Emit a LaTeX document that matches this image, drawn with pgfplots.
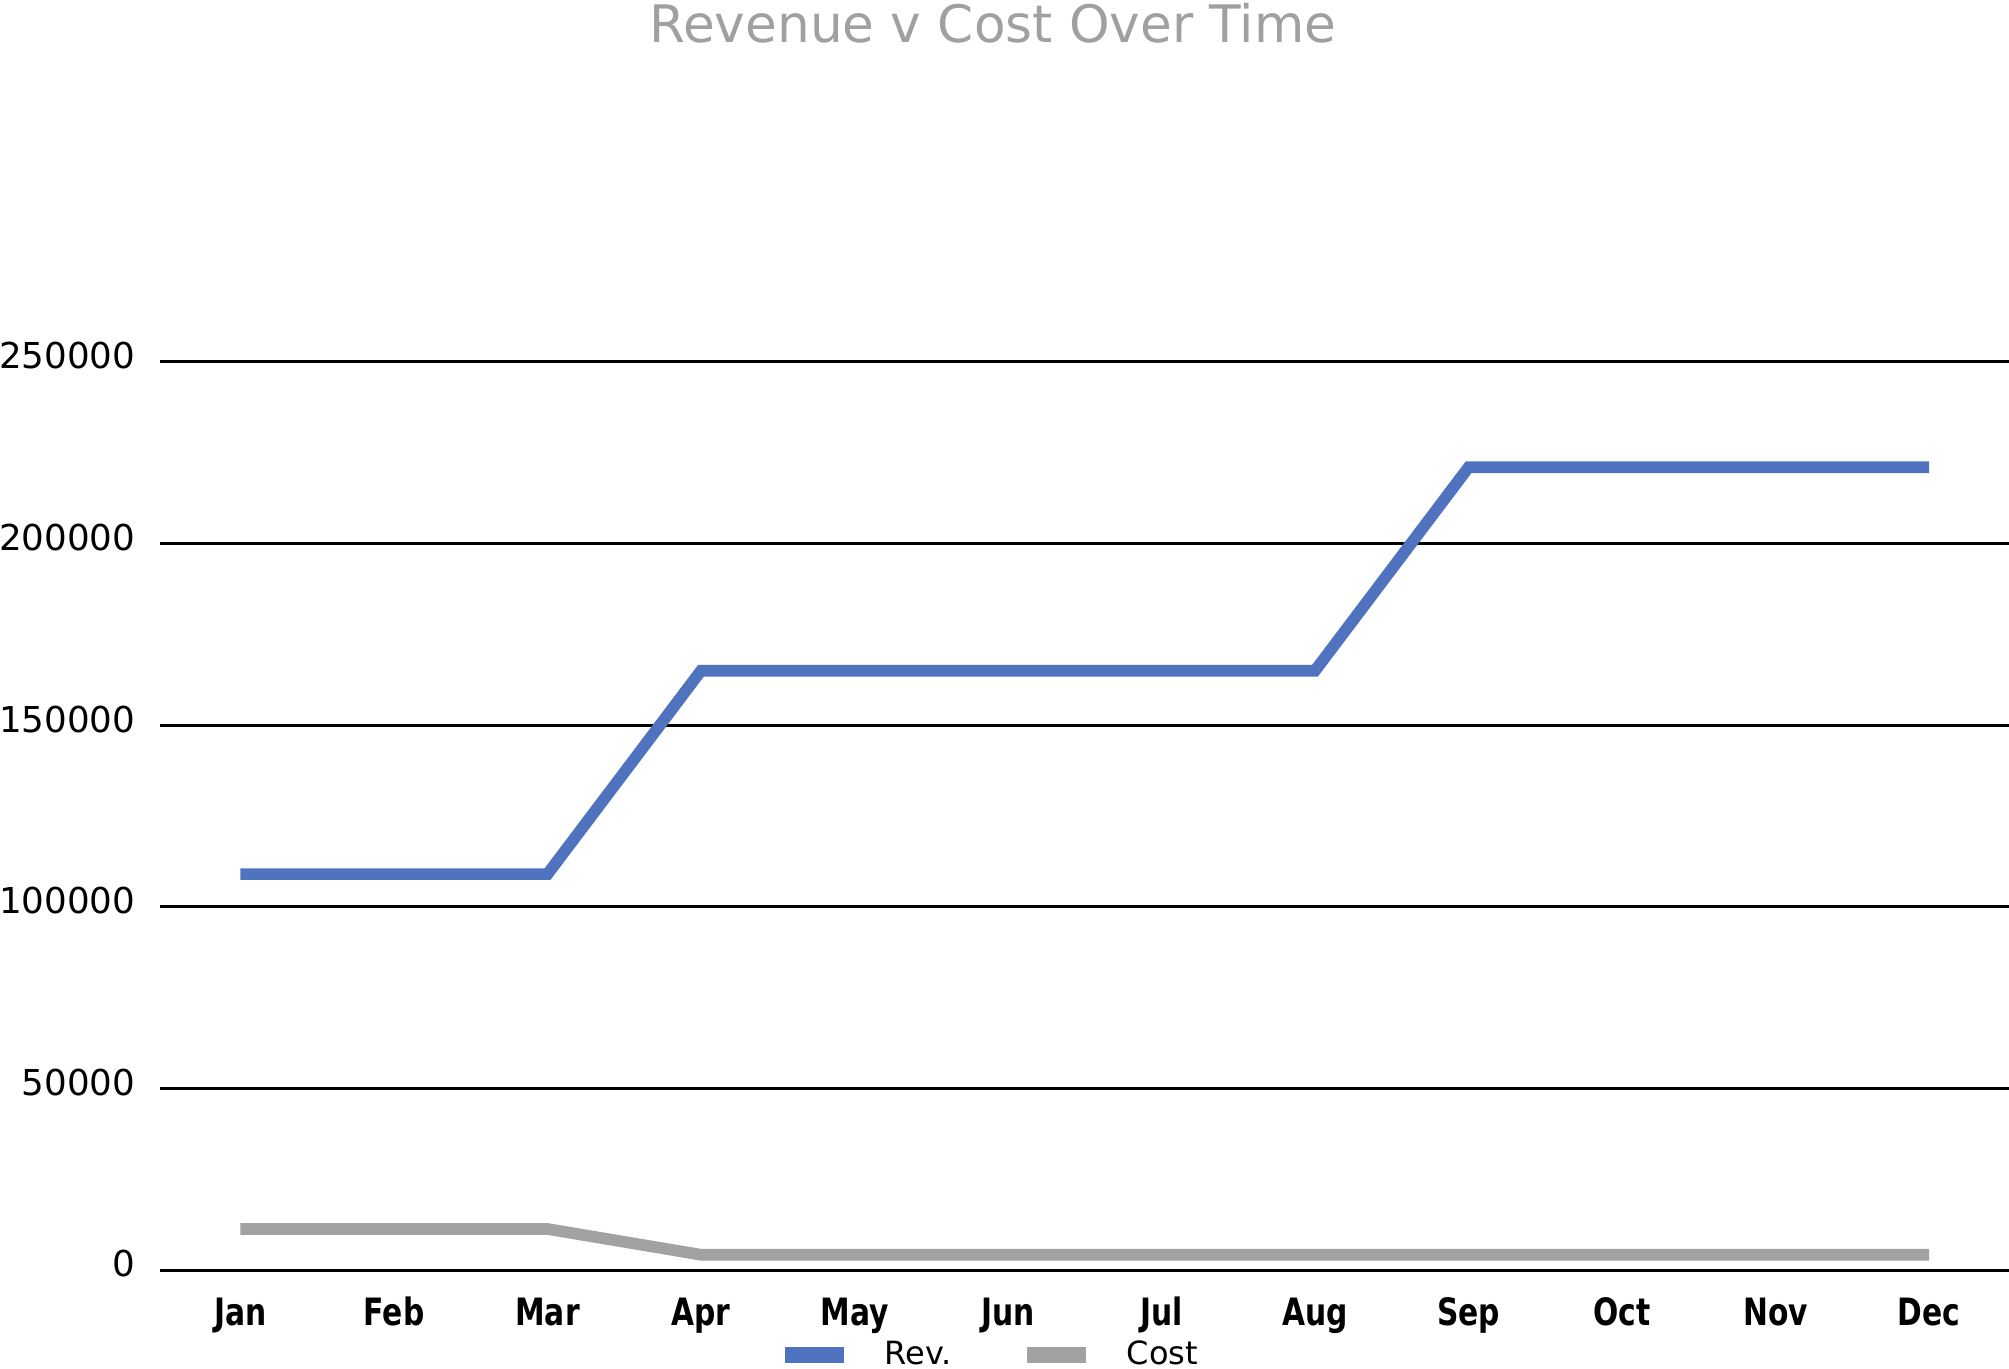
\documentclass[border=0pt]{standalone}
\usepackage{fontspec}
\setmainfont{DejaVu Sans}
\newfontfamily\monthfont[FakeStretch=0.79]{DejaVu Sans}
\usepackage{pgfplots}
\usepackage{pgfplotstable}
\pgfplotsset{compat=1.18}
\definecolor{revblue}{RGB}{79,115,190}
\definecolor{costgray}{RGB}{162,162,162}
\definecolor{titlegray}{RGB}{160,160,160}
\pgfplotstableread{
x rev cost
0 109000 11300
1 109000 11300
2 109000 11300
3 165000 4200
4 165000 4200
5 165000 4200
6 165000 4200
7 165000 4200
8 221000 4200
9 221000 4200
10 221000 4200
11 221000 4200
}\datatable
\begin{document}
\begin{tikzpicture}
\path[use as bounding box] (-48pt,-29.4pt) rectangle (554.7pt,381pt);
\begin{axis}[
  scale only axis, width=554.7pt, height=272.4pt,
  xmin=-0.5244, xmax=11.521, ymin=0, ymax=250000,
  axis line style={draw=none},
  major tick style={draw=none}, minor tick style={draw=none},
  ytick={0,50000,100000,150000,200000,250000},
  scaled y ticks=false,
  /pgf/number format/fixed,
  /pgf/number format/1000 sep={},
  /pgf/number format/assume math mode=true,
  yticklabel style={font=\fontsize{10.7}{12}\selectfont, anchor=east, inner sep=0pt, xshift=-7.2pt, yshift=1.8pt},
  xtick={0,1,2,3,4,5,6,7,8,9,10,11},
  xticklabels={Jan,Feb,Mar,Apr,May,Jun,Jul,Aug,Sep,Oct,Nov,Dec},
  xticklabel style={font=\monthfont\bfseries\fontsize{11.3}{13}\selectfont, anchor=base, inner sep=0pt, yshift=-16.5pt},
  ymajorgrids, major grid style={black, line width=0.9pt},
  every axis title shift=0pt,
  title={Revenue v Cost Over Time},
  title style={at={(axis description cs:0.4505,1.3524)}, anchor=base, font=\fontsize{15.5}{18}\selectfont, text=titlegray, inner sep=0pt},
  legend columns=2,
  legend style={at={(axis description cs:0.3375,-0.0935)}, anchor=west, draw=none, fill=none, inner sep=0pt,
    font=\fontsize{9.6}{12}\selectfont,
    nodes={inner sep=0pt},
    /tikz/every odd column/.append style={column sep=12.3pt},
    /tikz/every even column/.append style={column sep=22.5pt}},
  legend image code/.code={\path[#1, draw=none, fill] (0pt,-2.3pt) rectangle (17.7pt,2.3pt);},
  clip=false,
]
\addplot[revblue, line width=3.5pt, line join=miter] table[x=x, y=rev] {\datatable};
\addlegendentry{Rev.}
\addplot[costgray, line width=3.5pt, line join=miter] table[x=x, y=cost] {\datatable};
\addlegendentry{Cost}
\end{axis}
\end{tikzpicture}
\end{document}
